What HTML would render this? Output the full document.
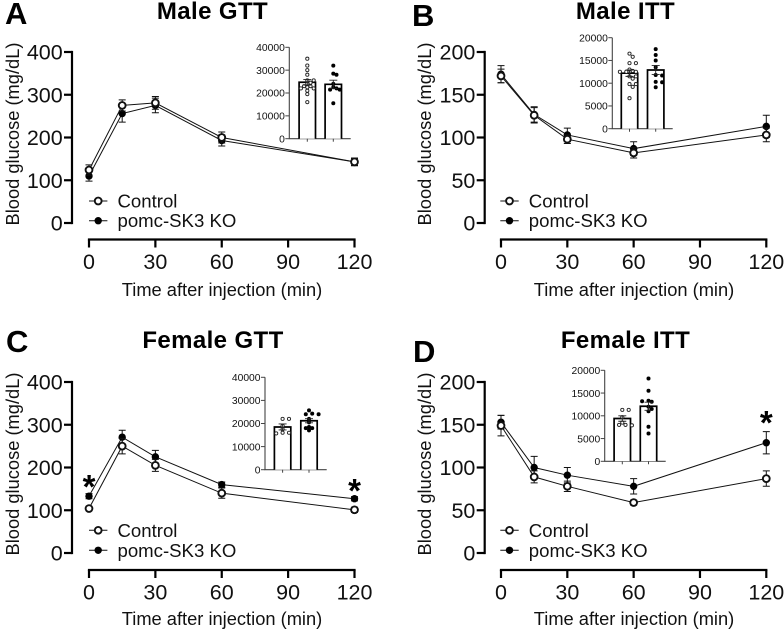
<!DOCTYPE html>
<html lang="en">
<head>
<meta charset="utf-8">
<title>Glucose and insulin tolerance</title>
<style>
html,body{margin:0;padding:0;background:#fff;}
svg{display:block;filter:blur(.3px);}
text{font-family:"Liberation Sans",Arial,sans-serif;fill:#111;}
.letter{font-size:31px;font-weight:bold;fill:#000;}
.title{font-size:24px;font-weight:bold;letter-spacing:.4px;fill:#000;text-anchor:middle;}
.axis-title{font-size:18.3px;text-anchor:middle;}
.legend{font-size:18.6px;}
.star{font-size:33px;font-weight:bold;text-anchor:middle;fill:#000;}
</style>
</head>
<body>
<svg id="figure" xmlns="http://www.w3.org/2000/svg" width="784" height="631" viewBox="0 0 784 631">
<rect width="784" height="631" fill="#fff"/>
<text class="letter" x="5" y="24">A</text>
<text class="letter" x="412" y="26">B</text>
<text class="letter" x="6" y="352">C</text>
<text class="letter" x="413" y="362">D</text>
<text class="title" x="212.5" y="19">Male GTT</text>
<text class="title" x="625.5" y="19">Male ITT</text>
<text class="title" x="213" y="348">Female GTT</text>
<text class="title" x="625.5" y="348">Female ITT</text>
<text class="axis-title" x="222" y="296">Time after injection (min)</text>
<text class="axis-title" x="634" y="296">Time after injection (min)</text>
<text class="axis-title" x="222" y="625">Time after injection (min)</text>
<text class="axis-title" x="634" y="625">Time after injection (min)</text>
<text class="axis-title" transform="translate(19 134) rotate(-90)">Blood glucose (mg/dL)</text>
<text class="axis-title" transform="translate(431 134) rotate(-90)">Blood glucose (mg/dL)</text>
<text class="axis-title" transform="translate(19 464) rotate(-90)">Blood glucose (mg/dL)</text>
<text class="axis-title" transform="translate(431 464) rotate(-90)">Blood glucose (mg/dL)</text>
<text class="star" x="89" y="498">*</text>
<text class="star" x="354.5" y="502">*</text>
<text class="star" x="766.3" y="434">*</text>
</svg>
<script>
/* shared categories and tick labels */
const timePoints = [0, 15, 30, 60, 120];
const xTicks = [0, 30, 60, 90, 120];
const gttTicks = [0, 100, 200, 300, 400];
const ittTicks = [0, 50, 100, 150, 200];
const gttAucTicks = [0, 10000, 20000, 30000, 40000];
const ittAucTicks = [0, 5000, 10000, 15000, 20000];

/* Male GTT */
const maleGttControl = [124, 275, 281, 200, 143];
const maleGttControlErr = [12, 13, 15, 13, 9];
const maleGttKo = [110, 256, 275, 193, 143];
const maleGttKoErr = [12, 20, 17, 13, 8];
const maleGttAucMeans = [24700, 23800];
const maleGttAucSems = [1200, 1800];
const maleGttAucControl = [35000, 32000, 30000, 28000, 25500, 25500, 24500, 24000, 23000, 23000, 22500, 22000, 22000, 21000, 19500, 16000];
const maleGttAucKo = [32000, 28500, 28000, 24000, 22500, 22000, 21500, 21500, 15500];

/* Male ITT */
const maleIttControl = [172, 126, 98, 82, 103];
const maleIttControlErr = [8, 9, 5, 6, 8];
const maleIttKo = [174, 127, 103, 87, 113];
const maleIttKoErr = [10, 9, 8, 8, 13];
const maleIttAucMeans = [12200, 12900];
const maleIttAucSems = [700, 1000];
const maleIttAucControl = [16500, 15800, 14400, 14400, 13000, 12700, 12500, 12500, 12500, 11500, 11500, 11000, 9800, 9800, 9200, 6700];
const maleIttAucKo = [17500, 16200, 15000, 13500, 11800, 11700, 10300, 10200, 9100];

/* Female GTT */
const femaleGttControl = [104, 250, 205, 140, 101];
const femaleGttControlErr = [5, 18, 14, 12, 6];
const femaleGttKo = [133, 271, 225, 160, 127];
const femaleGttKoErr = [6, 16, 15, 6, 5];
const femaleGttAucMeans = [18500, 21200];
const femaleGttAucSems = [1300, 900];
const femaleGttAucControl = [22000, 22000, 19000, 17500, 16000, 16000, 15700];
const femaleGttAucKo = [25700, 24300, 24000, 24000, 22000, 20500, 18500, 18000, 18000, 17000];

/* Female ITT */
const femaleIttControl = [149, 89, 78, 59, 87];
const femaleIttControlErr = [12, 7, 6, 3, 9];
const femaleIttKo = [153, 100, 91, 78, 129];
const femaleIttKoErr = [8, 13, 9, 9, 13];
const femaleIttAucMeans = [9400, 12100];
const femaleIttAucSems = [600, 900];
const femaleIttAucControl = [11300, 11300, 9700, 8500, 8000, 8000, 7900];
const femaleIttAucKo = [18200, 15500, 13300, 13100, 13200, 12000, 11500, 11000, 7600, 6100];

const NS = 'http://www.w3.org/2000/svg';
const fig = document.getElementById('figure');

function add(parent, tag, attrs, txt) {
  const node = document.createElementNS(NS, tag);
  for (const k in attrs) node.setAttribute(k, attrs[k]);
  if (txt !== undefined) node.textContent = txt;
  parent.appendChild(node);
  return node;
}
function linear(d0, d1, r0, r1) {
  return v => r0 + (v - d0) * (r1 - r0) / (d1 - d0);
}
function drawSeries(g, key, xs, ys, values, errs, filled) {
  const pts = values.map((v, i) => xs(timePoints[i]) + ',' + ys(v)).join(' ');
  const line = add(g, 'polyline', {points: pts, fill: 'none', stroke: '#111', 'stroke-width': 1});
  
  
  values.forEach((v, i) => {
    const x = xs(timePoints[i]);
    const hi = ys(v + errs[i]);
    const lo = ys(v - errs[i]);
    const eb = add(g, 'path', {d: 'M' + (x - 3.5) + ' ' + hi + 'H' + (x + 3.5) + 'M' + x + ' ' + hi + 'V' + lo + 'M' + (x - 3.5) + ' ' + lo + 'H' + (x + 3.5), fill: 'none', stroke: '#111', 'stroke-width': 1});
    
    
  });
  values.forEach((v, i) => {
    const x = xs(timePoints[i]);
    const dot = add(g, 'circle', filled
      ? {cx: x, cy: ys(v), r: 3.7, fill: '#000'}
      : {cx: x, cy: ys(v), r: 3.4, fill: '#fff', stroke: '#111', 'stroke-width': 1.9});
    
    
  });
}
function swarmOffsets(pys) {
  const placed = [];
  return pys.map(py => {
    let n = 0, off = 0;
    while (placed.some(p => Math.hypot(p.x - off, p.y - py) < 3.3)) {
      n++;
      off = (n % 2 ? 1 : -1) * Math.ceil(n / 2) * 3.2;
    }
    placed.push({x: off, y: py});
    return off;
  });
}
function drawInset(g, p, aucTicks, means, sems, ctrlVals, koVals) {
  const ys = linear(0, aucTicks[aucTicks.length - 1], p.y0, p.yTop);
  const axes = add(g, 'path', {d: 'M' + p.ax + ' ' + p.yTop + 'V' + p.y0 + 'H' + p.axEnd, fill: 'none', stroke: '#444', 'stroke-width': 1.1});
  
  
  aucTicks.forEach(t => {
    const tk = add(g, 'line', {x1: p.ax - 4, x2: p.ax, y1: ys(t), y2: ys(t), stroke: '#444', 'stroke-width': 1});
    
    
    const lb = add(g, 'text', {x: p.ax - 4.5, y: ys(t) + 3.7, 'font-size': 10.3, 'text-anchor': 'end', fill: '#222'}, String(t));
    
    
  });
  [ctrlVals, koVals].forEach((vals, b) => {
    const cx = p.bar0 + b * p.barGap;
    const bar = add(g, 'path', {d: 'M' + (cx - 8.2) + ' ' + p.y0 + 'V' + ys(means[b]) + 'H' + (cx + 8.2) + 'V' + p.y0, fill: '#fff', stroke: '#000', 'stroke-width': 1.7});
    
    
    const tk = add(g, 'line', {x1: cx, x2: cx, y1: p.y0, y2: p.y0 + 3, stroke: '#444', 'stroke-width': 1});
    
    
    const pys = vals.map(v => ys(v));
    const offs = swarmOffsets(pys);
    pys.forEach((py, i) => {
      const d = add(g, 'circle', b
        ? {cx: cx + offs[i], cy: py, r: 2, fill: '#000'}
        : {cx: cx + offs[i], cy: py, r: 1.6, fill: '#fff', stroke: '#222', 'stroke-width': .9});
      
      
    });
    const hi = ys(means[b] + sems[b]);
    const lo = ys(means[b] - sems[b]);
    const eb = add(g, 'path', {d: 'M' + (cx - 4) + ' ' + hi + 'H' + (cx + 4) + 'M' + cx + ' ' + hi + 'V' + lo + 'M' + (cx - 4) + ' ' + lo + 'H' + (cx + 4), fill: 'none', stroke: '#222', 'stroke-width': .9});
    
    
  });
}
function drawLegend(g, x, yCtrl, yKo) {
  const l1 = add(g, 'line', {x1: x, x2: x + 18.4, y1: yCtrl, y2: yCtrl, stroke: '#111', 'stroke-width': 1});
  
  
  const m1 = add(g, 'circle', {cx: x + 9.2, cy: yCtrl, r: 3.4, fill: '#fff', stroke: '#111', 'stroke-width': 1.9});
  
  
  const t1 = add(g, 'text', {class: 'legend', x: x + 28.5, y: yCtrl + 6.5}, 'Control');
  
  
  const l2 = add(g, 'line', {x1: x, x2: x + 18.4, y1: yKo, y2: yKo, stroke: '#111', 'stroke-width': 1});
  
  
  const m2 = add(g, 'circle', {cx: x + 9.2, cy: yKo, r: 3.7, fill: '#000'});
  
  
  const t2 = add(g, 'text', {class: 'legend', x: x + 28.5, y: yKo + 6.5}, 'pomc-SK3 KO');
  
  
}
function drawPanel(name, p, yTicks, ctrl, ctrlErr, ko, koErr) {
  const g = add(fig, 'g', {});
  
  
  const xs = linear(0, 120, p.x0, p.x120);
  const ys = linear(0, yTicks[yTicks.length - 1], p.y0, p.yTop);
  const yAxis = add(g, 'line', {x1: p.axX, x2: p.axX, y1: p.yTop - 1.1, y2: p.y0 + 1.1, stroke: '#000', 'stroke-width': 2.2});
  
  
  yTicks.forEach(t => {
    const tk = add(g, 'line', {x1: p.axX - 8, x2: p.axX, y1: ys(t), y2: ys(t), stroke: '#000', 'stroke-width': 2.2});
    
    
    const lb = add(g, 'text', {x: p.axX - 9.3, y: ys(t) + 7.6, 'font-size': 21.5, 'text-anchor': 'end'}, String(t));
    
    
  });
  const xAxis = add(g, 'line', {x1: xs(0) - 1.1, x2: xs(120) + 1.1, y1: p.xAxY, y2: p.xAxY, stroke: '#000', 'stroke-width': 2.2});
  
  
  xTicks.forEach(t => {
    const tk = add(g, 'line', {x1: xs(t), x2: xs(t), y1: p.xAxY, y2: p.xAxY + 8, stroke: '#000', 'stroke-width': 2.2});
    
    
    const lb = add(g, 'text', {x: xs(t), y: p.xAxY + 29.7, 'font-size': 21.5, 'text-anchor': 'middle'}, String(t));
    
    
  });
  drawSeries(g, 'ko', xs, ys, ko, koErr, true);
  drawSeries(g, 'control', xs, ys, ctrl, ctrlErr, false);
  return g;
}

const gA = drawPanel('male-gtt', {x0: 89, x120: 354.5, axX: 72, y0: 223, yTop: 52, xAxY: 239.5}, gttTicks, maleGttControl, maleGttControlErr, maleGttKo, maleGttKoErr);
drawLegend(gA, 89, 201, 220.7);
drawInset(gA, {ax: 289.3, axEnd: 350.7, y0: 138.7, yTop: 47.3, bar0: 307.3, barGap: 26}, gttAucTicks, maleGttAucMeans, maleGttAucSems, maleGttAucControl, maleGttAucKo);

const gB = drawPanel('male-itt', {x0: 501, x120: 766.3, axX: 484.7, y0: 223, yTop: 52, xAxY: 239.5}, ittTicks, maleIttControl, maleIttControlErr, maleIttKo, maleIttKoErr);
drawLegend(gB, 500.3, 201, 220.7);
drawInset(gB, {ax: 612.3, axEnd: 672.7, y0: 128.7, yTop: 37.7, bar0: 629.5, barGap: 26.2}, ittAucTicks, maleIttAucMeans, maleIttAucSems, maleIttAucControl, maleIttAucKo);

const gC = drawPanel('female-gtt', {x0: 89, x120: 354.5, axX: 72, y0: 553, yTop: 382, xAxY: 570}, gttTicks, femaleGttControl, femaleGttControlErr, femaleGttKo, femaleGttKoErr);
drawLegend(gC, 89, 530.3, 550.3);
drawInset(gC, {ax: 265, axEnd: 326.7, y0: 469.7, yTop: 377.3, bar0: 282.6, barGap: 26.4}, gttAucTicks, femaleGttAucMeans, femaleGttAucSems, femaleGttAucControl, femaleGttAucKo);

const gD = drawPanel('female-itt', {x0: 501, x120: 766.3, axX: 484.7, y0: 553, yTop: 382, xAxY: 570}, ittTicks, femaleIttControl, femaleIttControlErr, femaleIttKo, femaleIttKoErr);
drawLegend(gD, 500.3, 530.3, 550.3);
drawInset(gD, {ax: 604.7, axEnd: 665.7, y0: 461.3, yTop: 370.3, bar0: 622.3, barGap: 26.2}, ittAucTicks, femaleIttAucMeans, femaleIttAucSems, femaleIttAucControl, femaleIttAucKo);
</script>
</body>
</html>
